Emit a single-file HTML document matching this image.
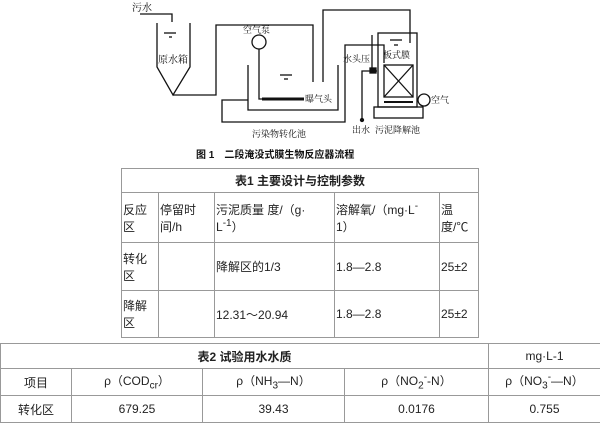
<!DOCTYPE html>
<html><head><meta charset="utf-8"><style>
body{margin:0;width:600px;height:426px;background:#fff;position:relative;overflow:hidden;font-family:"Liberation Sans","Noto Sans CJK SC",sans-serif;}
svg{position:absolute;left:0;top:0}
table{position:absolute;border-collapse:collapse;font-size:12px;color:#222}
td{border:1px solid #999;padding:0 1px;vertical-align:middle}
</style></head><body>
<svg width="600" height="165" font-family="Liberation Serif, Noto Serif CJK SC, serif" font-size="10" fill="none" stroke="#111" stroke-width="1.3">
<text x="132" y="11" fill="#111" stroke="none">污水</text>
<polyline points="140,14 172,14 172,22"/>
<polyline points="157,23 157,67 173,95 190,67 190,23"/>
<line x1="164" y1="33" x2="176" y2="33"/><line x1="169" y1="37" x2="172" y2="37"/>
<text x="158" y="63" fill="#111" stroke="none">原水箱</text>
<polyline points="173,95 216,95 216,25 313,25 313,82"/>
<polyline points="323,82 323,10 410,10 410,43"/>
<polyline points="248,65 248,110 338,110 338,65"/>
<line x1="280" y1="75" x2="292" y2="75"/><line x1="284" y1="79" x2="288" y2="79"/>
<circle cx="259" cy="42" r="7"/>
<polyline points="259,49 259,99 262,99"/>
<line x1="262" y1="99" x2="304" y2="99" stroke-width="3"/>
<text x="305" y="102" fill="#111" stroke="none" font-size="9">曝气头</text>
<text x="243" y="33" fill="#111" stroke="none" font-size="9">空气泵</text>
<polyline points="248,100 222,100 222,122 345,122 345,45 384,45 384,63"/>
<text x="252" y="137" fill="#111" stroke="none" font-size="9">污染物转化池</text>
<rect x="378" y="33" width="39" height="74"/>
<rect x="384" y="65" width="29" height="32"/>
<line x1="384" y1="65" x2="413" y2="97"/><line x1="413" y1="65" x2="384" y2="97"/>
<line x1="384" y1="102" x2="413" y2="102" stroke-width="2"/>
<line x1="390" y1="40" x2="402" y2="40"/><line x1="394" y1="45" x2="398" y2="45"/>
<text x="383" y="58" fill="#111" stroke="none" font-size="9">板式膜</text>
<rect x="374" y="107" width="49" height="11"/>
<circle cx="424" cy="100" r="6"/>
<text x="431" y="103" fill="#111" stroke="none" font-size="9">空气</text>
<line x1="372" y1="35" x2="372" y2="70"/>
<rect x="370" y="68" width="6" height="5" fill="#111"/>
<polyline points="377,71 362,71 362,120"/>
<circle cx="362" cy="120" r="1.5" fill="#111"/>
<text x="343" y="62" fill="#111" stroke="none" font-size="9">水头压</text>
<text x="352" y="133" fill="#111" stroke="none" font-size="9">出水</text>
<text x="375" y="133" fill="#111" stroke="none" font-size="9">污泥降解池</text>
<text x="196" y="158" fill="#111" stroke="none" font-size="10" font-weight="bold" font-family="Liberation Sans, Noto Sans CJK SC, sans-serif">图 1　二段淹没式膜生物反应器流程</text>
</svg>
<table style="left:121px;top:168px;width:358px">
<tr style="height:24px"><td colspan="5" style="text-align:center;font-weight:bold">表1 主要设计与控制参数</td></tr>
<tr style="height:50px"><td style="width:34px">反应<br>区</td><td style="width:53px">停留时<br>间/h</td><td style="width:117px">污泥质量 度/（g·<br>L<sup>-1</sup>）</td><td style="width:102px">溶解氧/（mg·L<sup>-</sup><br>1）</td><td>温<br>度/℃</td></tr>
<tr style="height:48px"><td>转化<br>区</td><td></td><td>降解区的1/3</td><td>1.8—2.8</td><td>25±2</td></tr>
<tr style="height:47px"><td>降解<br>区</td><td></td><td>12.31～20.94</td><td>1.8—2.8</td><td>25±2</td></tr>
</table>
<table style="left:0;top:343px;width:601px;text-align:center">
<tr style="height:25px"><td colspan="4" style="font-weight:bold">表2 试验用水水质</td><td>mg·L-1</td></tr>
<tr style="height:27px"><td style="width:68px">项目</td><td style="width:128px">ρ（COD<sub>cr</sub>）</td><td style="width:139px">ρ（NH<sub>3</sub>—N）</td><td style="width:141px">ρ（NO<sub>2</sub><sup>-</sup>-N）</td><td>ρ（NO<sub>3</sub><sup>-</sup>—N）</td></tr>
<tr style="height:27px"><td>转化区</td><td>679.25</td><td>39.43</td><td>0.0176</td><td>0.755</td></tr>
</table>
</body></html>
